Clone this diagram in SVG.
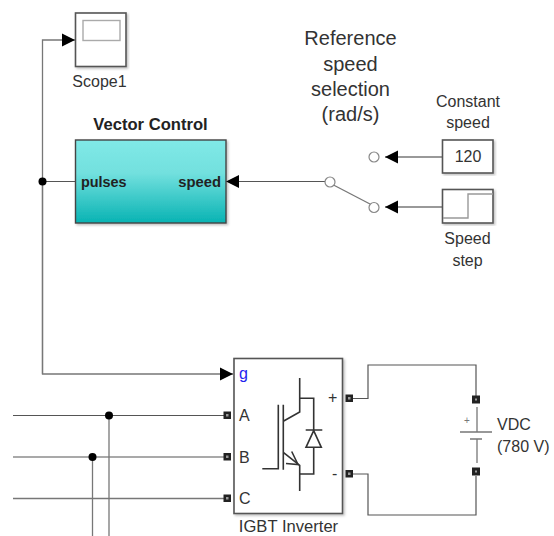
<svg xmlns="http://www.w3.org/2000/svg" width="554" height="536" viewBox="0 0 554 536">
<defs>
<linearGradient id="teal" x1="0" y1="0" x2="0" y2="1"><stop offset="0" stop-color="#80e9e7"/><stop offset="0.4" stop-color="#72e0de"/><stop offset="1" stop-color="#08b3b3"/></linearGradient>
<marker id="arr" markerUnits="userSpaceOnUse" markerWidth="14" markerHeight="14" refX="13" refY="7" orient="auto"><path d="M0,0.5 L13,7 L0,13.5 Z" fill="#000"/></marker>
<filter id="sh" x="-5%" y="-5%" width="112%" height="112%"><feDropShadow dx="1.5" dy="1.5" stdDeviation="1" flood-color="#000" flood-opacity="0.25"/></filter>
</defs>
<style>
text{font-family:"Liberation Sans",Arial,sans-serif;fill:#333;font-size:16px}
.c{text-anchor:middle}
.b{font-weight:bold;fill:#222}
.w{fill:none;stroke:#777;stroke-width:1.3}
.d{fill:none;stroke:#555;stroke-width:1.2}
.box{fill:#fff;stroke:#555;stroke-width:1.6;filter:url(#sh)}
.ic{fill:none;stroke:#333;stroke-width:1.6}
.p{fill:#222;stroke:#222}
.pi{fill:#999}
.o{fill:#fff;stroke:#888;stroke-width:1.2}
</style>
<g id="connectors">
<path class="w" d="M42.5,374V40H75" marker-end="url(#arr)"/>
<path class="w" d="M42.5,181V374H233" marker-end="url(#arr)"/>
<path class="d" d="M42.5,181.5H75"/>
<path class="d" d="M325,181.5H226" marker-end="url(#arr)"/>
<path class="w" d="M442,157H385" marker-end="url(#arr)"/>
<path class="w" d="M442,207H385" marker-end="url(#arr)"/>
<path class="d" d="M13,415.5H224"/>
<path class="d" d="M13,457H224"/>
<path class="w" d="M13,498.5H224"/>
<path class="w" d="M109,415.5V536"/>
<path class="w" d="M92.5,457V536"/>
<path class="d" d="M353,398.5H368V365H476V396"/>
<path class="d" d="M353,474H368V515H476V476"/>
<circle cx="42.5" cy="181.5" r="4" fill="#000"/>
<circle cx="109" cy="415.5" r="4" fill="#000"/>
<circle cx="92.5" cy="457" r="4" fill="#000"/>
</g>
<g id="scope1">
<rect class="box" x="75.5" y="13" width="50.5" height="53.5"/>
<rect x="83" y="20.5" width="37" height="20" fill="#fff" stroke="#aaa" stroke-width="1.4"/>
<text class="c" x="99.5" y="87">Scope1</text>
</g>
<g id="vector-control">
<rect x="75.5" y="140" width="150.5" height="83" fill="url(#teal)" stroke="#444" stroke-width="1.4" style="filter:url(#sh)"/>
<text class="c b" x="150.5" y="130" style="font-size:16.6px">Vector Control</text>
<text class="b" x="81" y="187" style="font-size:14.4px">pulses</text>
<text class="b" x="221" y="187" text-anchor="end" style="font-size:14.8px">speed</text>
</g>
<g id="reference-label">
<text class="c" x="350.5" y="45" style="font-size:20px">Reference</text>
<text class="c" x="350.5" y="71" style="font-size:20px">speed</text>
<text class="c" x="350.5" y="96" style="font-size:20px">selection</text>
<text class="c" x="350.5" y="121" style="font-size:20px">(rad/s)</text>
</g>
<g id="switch">
<path class="w" d="M333.5,185L370,204"/>
<circle class="o" cx="330" cy="182" r="5"/>
<circle class="o" cx="374" cy="157" r="5"/>
<circle class="o" cx="374" cy="207.5" r="5"/>
</g>
<g id="constant-speed">
<rect class="box" x="442.5" y="140" width="50.5" height="33"/>
<text class="c" x="468" y="162">120</text>
<text class="c" x="468" y="107">Constant</text>
<text class="c" x="468" y="128">speed</text>
</g>
<g id="speed-step">
<rect class="box" x="442.5" y="189.5" width="50.5" height="33.5"/>
<path d="M443,218H468V194H493" fill="none" stroke="#999" stroke-width="1.4"/>
<text class="c" x="467.5" y="244">Speed</text>
<text class="c" x="467.5" y="266">step</text>
</g>
<g id="igbt-inverter">
<rect class="box" x="234" y="358.5" width="108.5" height="155"/>
<text x="239" y="379" style="fill:#2222ee">g</text>
<text x="239" y="421">A</text>
<text x="239" y="462.5">B</text>
<text x="239" y="504">C</text>
<text x="328" y="403">+</text>
<text x="332" y="479">-</text>
<text class="c" x="288.5" y="532" style="font-size:16.6px">IGBT Inverter</text>
<path class="ic" d="M299.7,378V412L283.3,421.3M299.7,398.3H313.7V430.7M313.7,447.3V474H299.7M299.7,491V465.3L283.3,452.3M283.3,404.7V469.7M278.3,404.7V468.7H262.3M305.7,430H322.3M313.7,430.7L306,447.3H321.3Z"/>
<path class="ic" d="M291.7,451.5L298,464.5L286,463.5"/>
<rect class="p" x="224" y="412" width="6.5" height="6.5"/><rect class="pi" x="226" y="414" width="2.5" height="2.5"/>
<rect class="p" x="224" y="453.5" width="6.5" height="6.5"/><rect class="pi" x="226" y="455.5" width="2.5" height="2.5"/>
<rect class="p" x="224" y="495" width="6.5" height="6.5"/><rect class="pi" x="226" y="497" width="2.5" height="2.5"/>
<rect class="p" x="346" y="395" width="6.5" height="6.5"/><rect class="pi" x="348" y="397" width="2.5" height="2.5"/>
<rect class="p" x="346" y="470.5" width="6.5" height="6.5"/><rect class="pi" x="348" y="472.5" width="2.5" height="2.5"/>
</g>
<g id="vdc">
<path d="M477,407V432M460,432H492M470,439H482M477,439V463" fill="none" stroke="#777" stroke-width="1.3"/>
<text x="467" y="424" text-anchor="middle" style="font-size:10px;fill:#777">+</text>
<rect class="p" x="472.5" y="396" width="7" height="7"/><rect class="pi" x="475" y="398.5" width="2" height="2"/>
<rect class="p" x="472.5" y="468" width="7" height="7"/><rect class="pi" x="475" y="470.5" width="2" height="2"/>
<text x="497" y="430">VDC</text>
<text x="497" y="452">(780 V)</text>
</g>
</svg>
